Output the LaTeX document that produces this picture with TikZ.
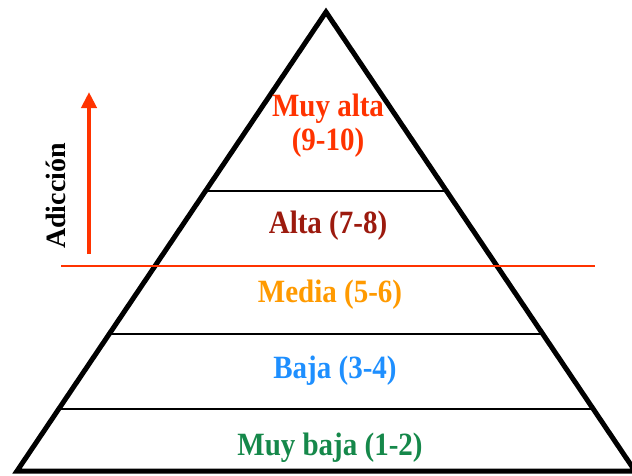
\documentclass[tikz,border=0pt]{standalone}
\usepackage{fontspec}
\setmainfont{Liberation Serif}
\usetikzlibrary{calc}
\usetikzlibrary{arrows.meta}

\definecolor{muyaltacol}{HTML}{FF3300}
\definecolor{altacol}{HTML}{9C1A0E}
\definecolor{mediacol}{HTML}{FF9A00}
\definecolor{bajacol}{HTML}{1E8FFF}
\definecolor{muybajacol}{HTML}{15884A}

\begin{document}
\begin{tikzpicture}[x=1pt,y=-1pt,>=Triangle,
level label/.style={font=\fontsize{29}{30.5}\selectfont\bfseries,inner sep=0pt,align=center,yscale=1.12},
side label/.style={font=\fontsize{28}{30}\selectfont\bfseries,inner sep=0pt},
level line/.style={line width=2.7pt},
cut line/.style={muyaltacol,line width=2pt},
rise arrow/.style={-{Triangle[length=16pt,width=15pt]},muyaltacol,line width=4.5pt}]
\useasboundingbox (0,0) rectangle (632,475);
% The pyramid
\coordinate (apex) at (326,12);
\coordinate (bl) at (17,471);
\coordinate (br) at (635,471);
\draw[line width=5pt,line join=miter] (apex) -- (bl) -- (br) -- cycle;
% The levels
\foreach \yy in {191,334,409}
{
  \draw[level line] ($(apex)!{(\yy-12)/459}!(bl)$) -- ($(apex)!{(\yy-12)/459}!(br)$);
}
% The addiction threshold
\coordinate (cutL) at (61,266);
\coordinate (cutR) at (595,266);
\draw[cut line] (cutL) -- (cutR);

% Arrow and its label
\coordinate (arrow base) at (89,254);
\coordinate (arrow tip) at (89,92);
\draw[rise arrow] (arrow base) -- (arrow tip);
\node[side label,rotate=90,anchor=base] (adiccion) at (65,196) {Adicción};

% Level labels
\node[level label,text=muyaltacol] (muyalta) at (328,126) {Muy alta\\(9-10)};
\node[level label,text=altacol,anchor=base] (alta) at (328,233) {Alta (7-8)};
\node[level label,text=mediacol,anchor=base] (media) at (330,302) {Media (5-6)};
\node[level label,text=bajacol,anchor=base] (baja) at (335,378) {Baja (3-4)};
\node[level label,text=muybajacol,anchor=base] (muybaja) at (330,455) {Muy baja (1-2)};
\end{tikzpicture}
\end{document}
